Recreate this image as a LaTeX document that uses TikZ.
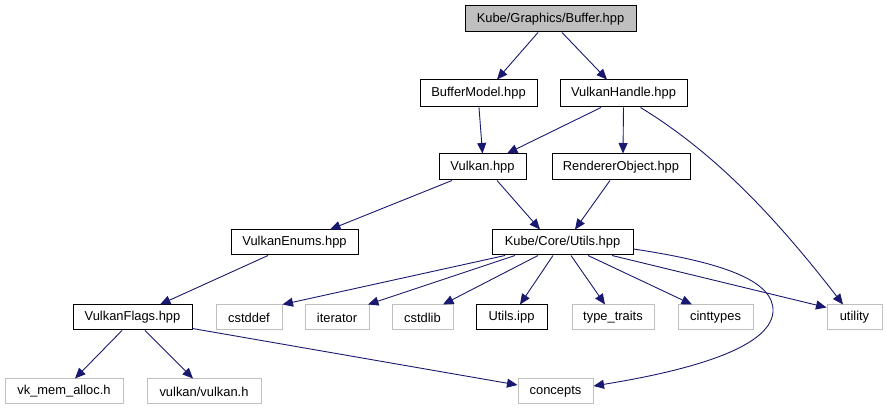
\documentclass[tikz,border=0pt]{standalone}
\usepackage{fontspec}
\setmainfont{Liberation Sans}
\usetikzlibrary{arrows.meta}
\definecolor{edgeblue}{HTML}{191970}
\definecolor{boxgray}{HTML}{BFBFBF}
\begin{document}
\begin{tikzpicture}[x=1pt,y=-1pt,
  every node/.style={font=\fontsize{12.9}{15}\selectfont, inner sep=0pt, anchor=center},
  filebox/.style={draw=black, line width=1pt, fill=white, minimum height=26pt},
  extbox/.style={draw=boxgray, line width=1pt, fill=white, minimum height=26pt},
  rootbox/.style={draw=black, line width=1pt, fill=boxgray, minimum height=26pt},
  dep/.style={draw=edgeblue, line width=0.9pt, -{Triangle[length=10.5pt,width=9pt]}, color=edgeblue}
]
\useasboundingbox (0,0) rectangle (887,411);
\fill[white] (0,0) rectangle (887,411);

\node[rootbox, minimum width=171pt] (buf) at (550.5,19) {Kube/Graphics/Buffer.hpp};
\node[filebox, minimum width=117pt, minimum height=27pt] (bm) at (478.5,93.5) {BufferModel.hpp};
\node[filebox, minimum width=127pt, minimum height=27pt] (vh) at (623.5,93.5) {VulkanHandle.hpp};
\node[filebox, minimum width=87pt] (vk) at (482.5,167) {Vulkan.hpp};
\node[filebox, minimum width=138pt] (ro) at (621,167) {RendererObject.hpp};
\node[filebox, minimum width=127pt, minimum height=25pt] (ve) at (294.5,242.5) {VulkanEnums.hpp};
\node[filebox, minimum width=141pt, minimum height=25pt] (cu) at (562.5,242.5) {Kube/Core/Utils.hpp};
\node[filebox, minimum width=119pt, minimum height=25pt] (vf) at (132.5,317.5) {VulkanFlags.hpp};
\node[extbox, minimum width=66pt, minimum height=25pt] (cstddef) at (249,317.5) {cstddef};
\node[extbox, minimum width=64pt, minimum height=25pt] (iter) at (337,317.5) {iterator};
\node[extbox, minimum width=61pt, minimum height=25pt] (cstdlib) at (422.5,317.5) {cstdlib};
\node[filebox, minimum width=71pt, minimum height=25pt] (uipp) at (511.5,317.5) {Utils.ipp};
\node[extbox, minimum width=82pt, minimum height=25pt] (tt) at (613,317.5) {type\_traits};
\node[extbox, minimum width=75pt, minimum height=25pt] (cint) at (715.5,317.5) {cinttypes};
\node[extbox, minimum width=55pt, minimum height=25pt] (util) at (854.5,317.5) {utility};
\node[extbox, minimum width=118pt, minimum height=25pt] (vkm) at (64,391.5) {vk\_mem\_alloc.h};
\node[extbox, minimum width=114pt, minimum height=25pt] (vv) at (204,391.5) {vulkan/vulkan.h};
\node[extbox, minimum width=75pt, minimum height=25pt] (conc) at (555.5,391.5) {concepts};

\draw[dep] ([xshift=-12.5pt]buf.south) -- ([xshift=18.5pt]bm.north);
\draw[dep] ([xshift=11.5pt]buf.south) -- ([xshift=-16.5pt]vh.north);
\draw[dep] ([xshift=0.5pt]bm.south) -- (vk.north);
\draw[dep] ([xshift=-22.5pt]vh.south) -- ([xshift=24.5pt]vk.north);
\draw[dep] (vh.south) -- ([xshift=2pt]ro.north);
\draw[dep] ([xshift=17pt]vh.south) .. controls (710,150) and (770,210) .. ([xshift=-11.5pt]util.north);
\draw[dep] ([xshift=-30.5pt]vk.south) -- ([xshift=35.5pt]ve.north);
\draw[dep] ([xshift=14.5pt]vk.south) -- ([xshift=-22.5pt]cu.north);
\draw[dep] ([xshift=-11pt]ro.south) -- ([xshift=12.5pt]cu.north);
\draw[dep] ([xshift=-26.5pt]ve.south) -- ([xshift=27.5pt]vf.north);
\draw[dep] ([xshift=-10.5pt]vf.south) -- ([xshift=11pt]vkm.north);
\draw[dep] ([xshift=12.5pt]vf.south) -- ([xshift=-11pt]vv.north);
\draw[dep] ([yshift=2pt]vf.south east) -- ([yshift=6.5pt]conc.west);
\draw[dep] ([xshift=-57.5pt]cu.south) -- (cstddef.north east);
\draw[dep] ([xshift=-47.5pt]cu.south) -- ([xshift=31pt]iter.north);
\draw[dep] ([xshift=-24.5pt]cu.south) -- ([xshift=20.5pt]cstdlib.north);
\draw[dep] ([xshift=-9.5pt]cu.south) -- ([xshift=8.5pt]uipp.north);
\draw[dep] ([xshift=8.5pt]cu.south) -- ([xshift=-8pt]tt.north);
\draw[dep] ([xshift=25.5pt]cu.south) -- ([xshift=-23.5pt]cint.north);
\draw[dep] ([xshift=49.5pt]cu.south) -- ([yshift=-3pt]util.north west);
\draw[dep] ([yshift=-6.5pt]cu.east) .. controls (720,262) and (775,280) .. (773,312) .. controls (770,350) and (680,372) .. ([yshift=5.5pt]conc.east);
\end{tikzpicture}
\end{document}
